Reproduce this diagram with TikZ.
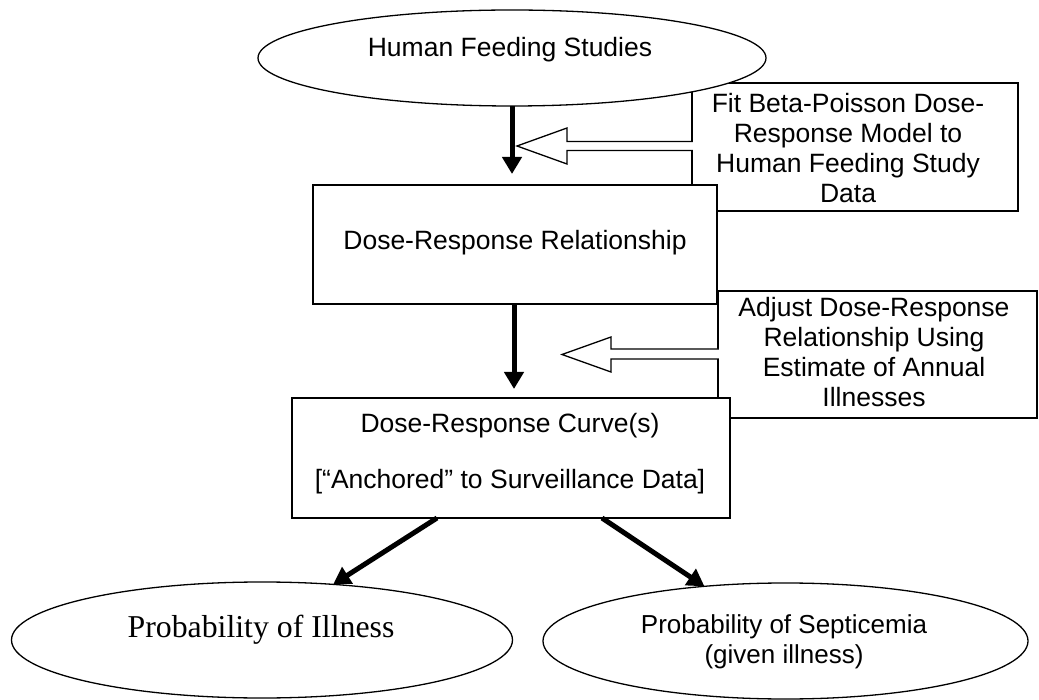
\documentclass[tikz,border=0pt]{standalone}
\usepackage{fontspec}
\setmainfont{Liberation Sans}
\newfontfamily\timesfont{Liberation Serif}
\usetikzlibrary{shapes.geometric,arrows.meta}
\begin{document}
\begin{tikzpicture}[x=1pt,y=-1pt,
  thinline/.style={line width=1.3pt},
  boxnode/.style={draw,thinline,fill=white,rectangle,inner sep=0pt,outer sep=0pt},
  ellnode/.style={draw,thinline,fill=white,ellipse,inner sep=0pt,outer sep=0pt},
  lbl/.style={anchor=base,inner sep=0pt,font=\fontsize{26.5}{30}\selectfont},
  solidarrow/.style={line width=5pt,-{Triangle[length=17pt,width=19pt]}},
  hollow/.style={thinline,fill=white,line join=miter}
]
\useasboundingbox (0,0) rectangle (1039,700);

% boxes and ellipses
\node[boxnode,minimum width=326pt,minimum height=128pt] (fit) at (855,147) {};
\node[ellnode,minimum width=508pt,minimum height=96pt] (hfs) at (512,58) {};
\filldraw[hollow] ([xshift=0.8pt,yshift=5.5pt]fit.west) -- ++(-125.8,0) -- ++(0,-13.5)
   -- ++(-50,18) -- ++(50,18) -- ++(0,-13.5) -- ++(125.8,0);
\node[boxnode,minimum width=319pt,minimum height=127pt] (adj) at (877.5,354.5) {};
\filldraw[hollow] ([xshift=0.8pt,yshift=5.5pt]adj.west) -- ++(-107.8,0) -- ++(0,-12)
   -- ++(-49,17.5) -- ++(49,17.5) -- ++(0,-13) -- ++(107.8,0);
\node[boxnode,minimum width=404pt,minimum height=119pt] (dr) at (515,244.5) {};
\node[boxnode,minimum width=438pt,minimum height=120pt] (curve) at (511,458) {};
\node[ellnode,minimum width=501pt,minimum height=116pt] (ill) at (262,640) {};
\node[ellnode,minimum width=485pt,minimum height=116pt] (sep) at (785.5,641) {};

% solid arrows
\draw[solidarrow,shorten >=11pt] (hfs.south) -- (hfs.south |- dr.north);
\draw[solidarrow,shorten >=9pt] ([xshift=-1pt]dr.south) -- ([xshift=-1pt]dr.south |- curve.north);
\draw[solidarrow] ([xshift=-74pt]curve.south) -- (ill.38.7);
\draw[solidarrow] ([xshift=91pt]curve.south) -- (sep.146);

% texts
\node[lbl] (hfst) at (510,57) {Human Feeding Studies};
\node[lbl] (fitt) at (848,113) {\begin{tabular}[t]{@{}c@{}}Fit Beta-Poisson Dose-\\Response Model to\\Human Feeding Study\\Data\end{tabular}};
\node[lbl] (drt) at (515,250) {Dose-Response Relationship};
\node[lbl] (adjt) at (874,317) {\begin{tabular}[t]{@{}c@{}}Adjust Dose-Response\\Relationship Using\\Estimate of Annual\\Illnesses\end{tabular}};
\node[lbl] (curvet) at (510,433) {\begin{tabular}[t]{@{}c@{}}Dose-Response Curve(s)\\[25pt][“Anchored” to Surveillance Data]\end{tabular}};
\node[anchor=base,inner sep=0pt,font=\timesfont\fontsize{31.8}{36}\selectfont] (illt) at (261,637) {Probability of Illness};
\node[lbl,font=\fontsize{26}{30}\selectfont] (sept) at (784,633) {\begin{tabular}[t]{@{}c@{}}Probability of Septicemia\\(given illness)\end{tabular}};
\end{tikzpicture}
\end{document}
